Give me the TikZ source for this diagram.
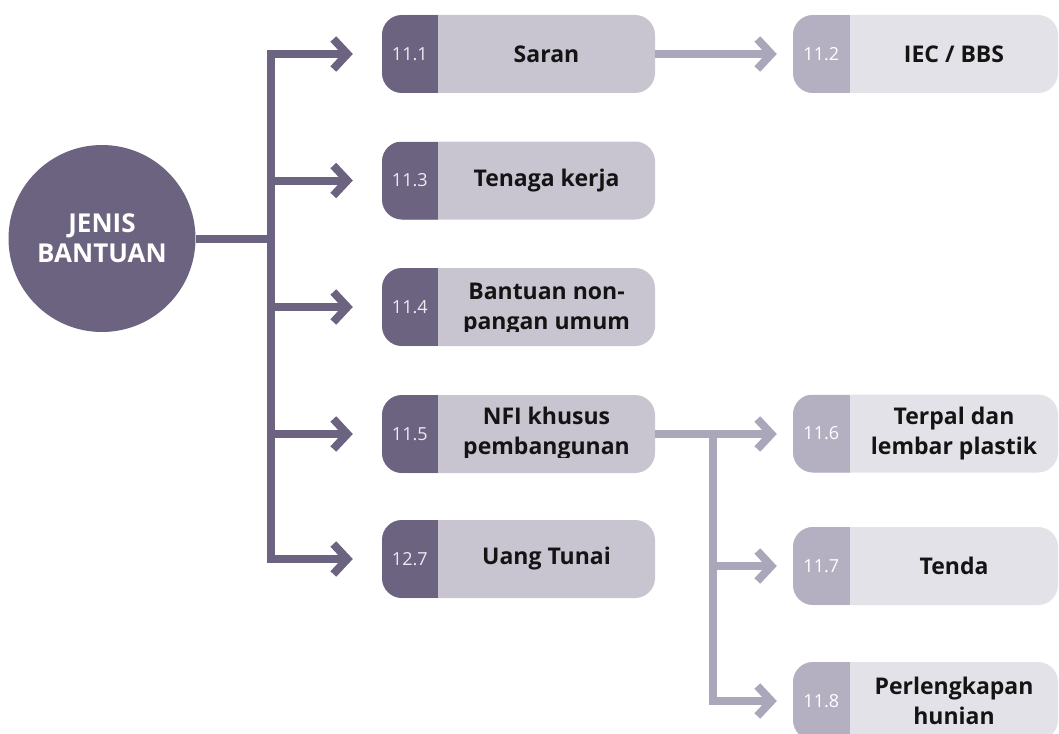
\documentclass[tikz,border=0pt]{standalone}
\usepackage{fontspec}
\setmainfont{Open Sans}
\usetikzlibrary{arrows.meta,calc}
\definecolor{dk}{HTML}{6B6380}
\definecolor{lt}{HTML}{C8C5D1}
\definecolor{dktwo}{HTML}{B4B0C2}
\definecolor{lttwo}{HTML}{E3E2E8}
\definecolor{lntwo}{HTML}{ABA7BA}
\definecolor{numc}{HTML}{ECEAF1}
\begin{document}
\begin{tikzpicture}[x=1pt,y=-1pt,
  box/.style={minimum width=273pt, minimum height=78pt, rounded corners=20pt, fill=lt, inner sep=0pt,
    path picture={\fill[dk,sharp corners] (path picture bounding box.north west) rectangle ([xshift=56pt]path picture bounding box.south west);}},
  boxtwo/.style={minimum width=265pt, minimum height=78pt, rounded corners=20pt, fill=lttwo, inner sep=0pt,
    path picture={\fill[dktwo,sharp corners] (path picture bounding box.north west) rectangle ([xshift=57pt]path picture bounding box.south west);}},
  num/.style={font=\fontsize{18}{20}\selectfont, text=numc},
  numtwo/.style={font=\fontsize{18}{20}\selectfont, text=white},
  lab/.style={font=\bfseries\fontsize{23}{30}\selectfont, align=center, text=black!92},
  mainln/.style={draw=dk, line width=8pt},
  subln/.style={draw=lntwo, line width=8pt},
  tip/.style={-{Straight Barb[length=14pt,width=30pt]}}
]
\useasboundingbox (0,0) rectangle (1059,733);

% centre circle
\node[circle, fill=dk, minimum size=187pt, inner sep=0pt, text=white, align=center,
  font=\bfseries\fontsize{26}{30}\selectfont] (c) at (102,238.5) {JENIS\\BANTUAN};

% main boxes
\node[box] (b1) at (518.5,54) {};
\node[box] (b3) at (518.5,180.5) {};
\node[box] (b4) at (518.5,307) {};
\node[box] (b5) at (518.5,434) {};
\node[box] (b7) at (518.5,559) {};

\node[num] (n1) at ([xshift=28pt]b1.west) {11.1};
\node[num] (n3) at ([xshift=28pt]b3.west) {11.3};
\node[num] (n4) at ([xshift=28pt]b4.west) {11.4};
\node[num] (n5) at ([xshift=28pt]b5.west) {11.5};
\node[num] (n7) at ([xshift=28pt]b7.west) {12.7};

\node[lab] (l1) at ([xshift=28pt]b1.center) {Saran};
\node[lab] (l3) at ([xshift=28pt]b3.center) {Tenaga kerja};
\begin{scope}
  \clip (b4.north west) rectangle ([yshift=15pt]b4.south east);
  \node[lab] (l4) at ([xshift=28pt,yshift=-2pt]b4.center) {Bantuan non-\\pangan umum};
\end{scope}
\begin{scope}
  \clip (b5.north west) rectangle ([yshift=16pt]b5.south east);
  \node[lab] (l5) at ([xshift=28pt]b5.center) {NFI khusus\\pembangunan};
\end{scope}
\node[lab] (l7) at ([xshift=28pt]b7.center) {Uang Tunai};

% right boxes
\node[boxtwo] (r2) at (925.5,54) {};
\node[boxtwo] (r6) at (925.5,433.5) {};
\node[boxtwo] (r7) at (925.5,566) {};
\node[boxtwo] (r8) at (925.5,701) {};

\node[numtwo] (m2) at ([xshift=28.5pt]r2.west) {11.2};
\node[numtwo] (m6) at ([xshift=28.5pt]r6.west) {11.6};
\node[numtwo] (m7) at ([xshift=28.5pt]r7.west) {11.7};
\node[numtwo] (m8) at ([xshift=28.5pt]r8.west) {11.8};

\node[lab] (k2) at ([xshift=28.5pt]r2.center) {IEC / BBS};
\node[lab] (k6) at ([xshift=28.5pt]r6.center) {Terpal dan\\lembar plastik};
\node[lab] (k7) at ([xshift=28.5pt]r7.center) {Tenda};
\node[lab] (k8) at ([xshift=28.5pt]r8.center) {Perlengkapan\\hunian};

% main connectors
\coordinate (tm) at (271,238.5);
\draw[mainln] (c.east) -- (tm);
\draw[mainln,tip] (tm) |- ([xshift=-29pt]b1.west);
\draw[mainln,tip] (tm) |- ([xshift=-29pt]b7.west);
\draw[mainln,tip] (tm |- b3.west) -- ([xshift=-29pt]b3.west);
\draw[mainln,tip] (tm |- b4.west) -- ([xshift=-29pt]b4.west);
\draw[mainln,tip] (tm |- b5.west) -- ([xshift=-29pt]b5.west);

% secondary connectors
\draw[subln,tip] (b1.east) -- ([xshift=-16pt]r2.west);
\coordinate (sj) at ($(b5.east)+(58,0)$);
\draw[subln,tip] (b5.east) -- ([xshift=-16pt]r6.west |- b5.east);
\draw[subln,tip] (sj) |- ([xshift=-16pt]r8.west);
\draw[subln,tip] (sj |- r7.west) -- ([xshift=-16pt]r7.west);
\end{tikzpicture}
\end{document}
